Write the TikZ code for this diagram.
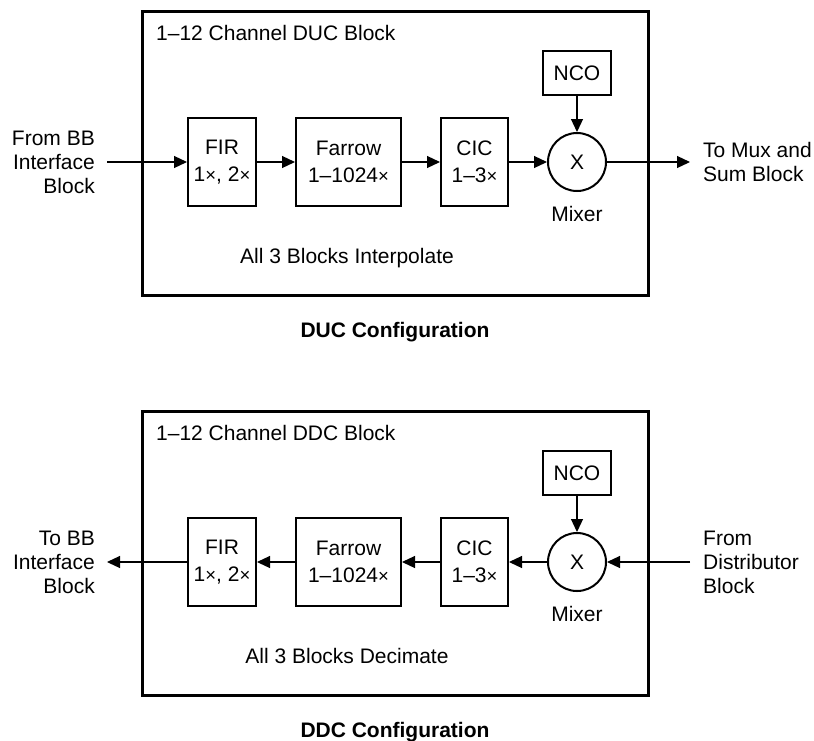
\documentclass[tikz,border=0pt]{standalone}
\usepackage{fontspec}
\setmainfont{Liberation Sans}
\usetikzlibrary{arrows.meta}
\newcommand{\tms}{\raisebox{0.3pt}{\fontsize{18.5}{18.5}\selectfont ×}}
\begin{document}
\begin{tikzpicture}[x=1pt,y=-1pt,
  outer/.style={draw,line width=3pt,minimum width=506pt,minimum height=284pt,inner sep=0pt},
  blk/.style={draw,line width=2pt,inner sep=0pt,align=center,minimum height=88pt,
    font=\fontsize{21}{27}\selectfont},
  mix/.style={draw,circle,line width=2pt,minimum size=58pt,inner sep=0pt,font=\fontsize{21}{24}\selectfont},
  lbl/.style={inner sep=0pt,font=\fontsize{21}{24}\selectfont},
  captxt/.style={inner sep=0pt,font=\fontsize{21}{24}\selectfont\bfseries},
  conn/.style={line width=1.2pt,-{Triangle[length=13pt,width=12pt]}}
]
\useasboundingbox (0,0) rectangle (814,740);
% ---------- DUC ----------
\node[outer] (duc) at (395,153) {};
\node[lbl,anchor=base west] (ductitle) at (156,40) {1–12 Channel DUC Block};
\node[blk,minimum width=68pt] (fir1) at (222,162) {FIR\\1\tms, 2\tms};
\node[blk,minimum width=105pt] (far1) at (348.5,162) {Farrow\\1–1024\tms};
\node[blk,minimum width=67pt] (cic1) at (474.5,162) {CIC\\1–3\tms};
\node[mix] (mix1) at (577,162) {X};
\node[blk,minimum width=68pt,minimum height=44pt] (nco1) at (577,73) {NCO};
\node[lbl,anchor=base] (mixl1) at (577,221) {Mixer};
\node[lbl,anchor=base] (all1) at (347,263) {All 3 Blocks Interpolate};
\node[lbl,anchor=east,align=right] (in1) at (95,162) {From BB\\Interface\\Block};
\node[lbl,anchor=west,align=left] (out1) at (703,162) {To Mux and\\Sum Block};
\node[captxt,anchor=base] (cap1) at (395,337) {DUC Configuration};
\coordinate (in1p) at (107,162);
\coordinate (out1p) at (690,162);
\draw[conn] (in1p) -- (fir1.west);
\draw[conn] (fir1.east) -- (far1.west);
\draw[conn] (far1.east) -- (cic1.west);
\draw[conn] (cic1.east) -- (mix1.west);
\draw[conn] (nco1.south) -- (mix1.north);
\draw[conn] (mix1.east) -- (out1p);
% ---------- DDC ----------
\node[outer] (ddc) at (395,553) {};
\node[lbl,anchor=base west] (ddctitle) at (156,440) {1–12 Channel DDC Block};
\node[blk,minimum width=68pt] (fir2) at (222,562) {FIR\\1\tms, 2\tms};
\node[blk,minimum width=105pt] (far2) at (348.5,562) {Farrow\\1–1024\tms};
\node[blk,minimum width=67pt] (cic2) at (474.5,562) {CIC\\1–3\tms};
\node[mix] (mix2) at (577,562) {X};
\node[blk,minimum width=68pt,minimum height=44pt] (nco2) at (577,473) {NCO};
\node[lbl,anchor=base] (mixl2) at (577,621) {Mixer};
\node[lbl,anchor=base] (all2) at (347,663) {All 3 Blocks Decimate};
\node[lbl,anchor=east,align=right] (outl2) at (95,562) {To BB\\Interface\\Block};
\node[lbl,anchor=west,align=left] (inl2) at (703,562) {From\\Distributor\\Block};
\node[captxt,anchor=base] (cap2) at (395,737) {DDC Configuration};
\coordinate (out2p) at (107,562);
\coordinate (in2p) at (690,562);
\draw[conn] (in2p) -- (mix2.east);
\draw[conn] (mix2.west) -- (cic2.east);
\draw[conn] (cic2.west) -- (far2.east);
\draw[conn] (far2.west) -- (fir2.east);
\draw[conn] (fir2.west) -- (out2p);
\draw[conn] (nco2.south) -- (mix2.north);
\end{tikzpicture}
\end{document}
